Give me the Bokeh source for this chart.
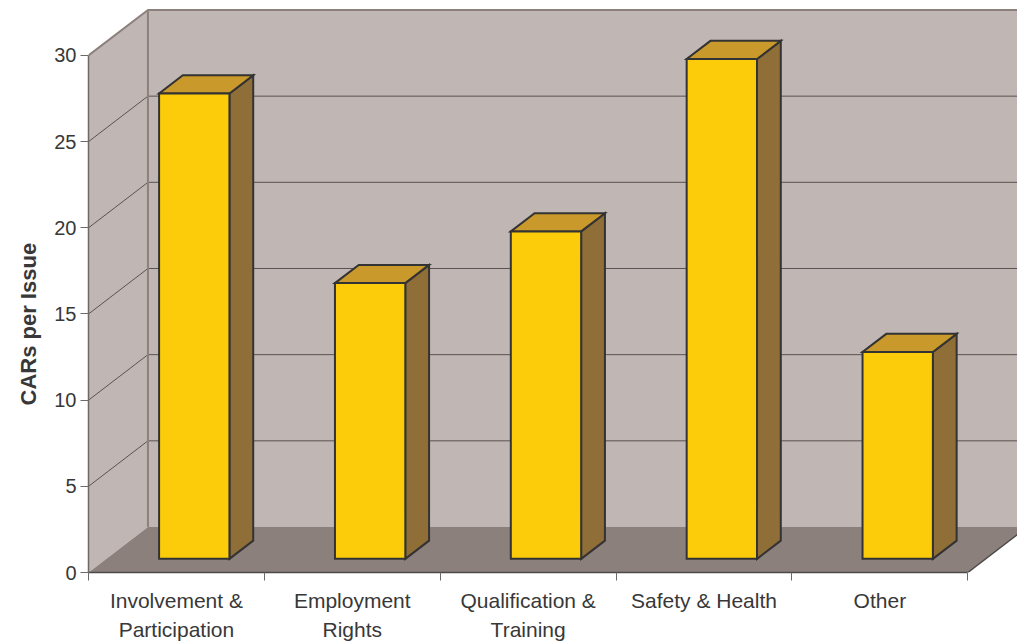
from bokeh.plotting import figure
from bokeh.models import FixedTicker, Range1d, Title
from bokeh.embed import file_html
from bokeh.resources import INLINE

categories = ["Involvement &\nParticipation", "Employment\nRights",
              "Qualification &\nTraining", "Safety & Health", "Other"]
values = [27, 16, 19, 29, 12]
y_ticks = [0, 5, 10, 15, 20, 25, 30]
y_label = "CARs per Issue"

DX, DY = 0.338, 2.64      # depth offset (x in category units, y in value units)
F0, F1 = 0.30, 0.70       # bar front/back depth fractions
BW = 0.4                  # bar width in category units
YMAX = 30
n = len(categories)
XR = 5.2826
FONT = "Liberation Sans"
TXT = "#383838"

p = figure(width=1017, height=644, x_range=Range1d(0, XR), y_range=Range1d(0, 33.19),
           output_backend="svg", toolbar_location=None,
           min_border_left=88, min_border_right=0, min_border_top=0, min_border_bottom=72)
p.outline_line_color = None
p.grid.visible = False
p.background_fill_color = "white"

wall = "#C0B6B4"
floor = "#8C807C"
edge = "#8C807C"
gridc = "#5a5252"

# walls and floor
p.patch([0, DX, DX, 0], [0, DY, YMAX + DY, YMAX], fill_color=wall, line_color=None)
p.patch([DX, XR + 1, XR + 1, DX], [DY, DY, YMAX + DY, YMAX + DY], fill_color=wall, line_color=None)
p.patch([0, n, n + DX, DX], [0, 0, DY, DY], fill_color=floor, line_color=None)

# gridlines
gx, gy = [], []
for v in y_ticks[1:-1]:
    gx.append([0, DX, XR + 1])
    gy.append([v, v + DY, v + DY])
p.multi_line(gx, gy, line_color=gridc, line_width=1)

# wall edges
p.multi_line([[0, DX, XR + 1], [DX, DX]], [[YMAX, YMAX + DY, YMAX + DY], [DY, YMAX + DY]],
             line_color=edge, line_width=2)
# floor right edge
p.line([n, n + DX], [0, DY], line_color="#4a4a4a", line_width=1.5)

# bars
d = F1 - F0
fx, fy, tx, ty, sx, sy = [], [], [], [], [], []
for i, v in enumerate(values):
    x0 = i + (1 - BW) / 2 + F0 * DX
    x1 = x0 + BW
    b = F0 * DY
    t = b + v
    fx.append([x0, x1, x1, x0]); fy.append([b, b, t, t])
    tx.append([x0, x1, x1 + d * DX, x0 + d * DX]); ty.append([t, t, t + d * DY, t + d * DY])
    sx.append([x1, x1 + d * DX, x1 + d * DX, x1]); sy.append([b, b + d * DY, t + d * DY, t])
p.patches(sx, sy, fill_color="#8F6E37", line_color="#333333", line_width=2, line_join="miter")
p.patches(tx, ty, fill_color="#C9992B", line_color="#333333", line_width=2, line_join="miter")
p.patches(fx, fy, fill_color="#FCCB0A", line_color="#333333", line_width=2, line_join="miter")

# y axis
ya = p.yaxis[0]
ya.ticker = FixedTicker(ticks=y_ticks, minor_ticks=[])
ya.bounds = (0, YMAX)
ya.axis_line_color = "#6e6868"
ya.axis_line_width = 1.5
ya.major_tick_in = 0
ya.major_tick_out = 8
ya.major_tick_line_color = "#6e6868"
ya.minor_tick_line_color = None
ya.major_label_standoff = 4
ya.major_label_text_font = FONT
ya.major_label_text_font_size = "20px"
ya.major_label_text_color = TXT

# y axis title, placed lower than the frame centre as in the original
p.add_layout(Title(text=y_label, align="left", offset=167, standoff=18,
                   vertical_align="top",
                   text_font=FONT, text_font_style="bold", text_font_size="22px",
                   text_color=TXT), "left")

# x axis
xa = p.xaxis[0]
centers = [i + 0.5 for i in range(n)]
xa.ticker = FixedTicker(ticks=centers, minor_ticks=list(range(n + 1)))
xa.bounds = (0, n)
xa.axis_line_color = "#4a4a4a"
xa.axis_line_width = 1.5
xa.major_tick_line_color = None
xa.minor_tick_in = 0
xa.minor_tick_out = 8
xa.minor_tick_line_color = "#6e6868"
xa.major_label_overrides = {c: lab for c, lab in zip(centers, categories)}
xa.major_label_standoff = 8
xa.major_label_text_font = FONT
xa.major_label_text_font_size = "21px"
xa.major_label_text_color = TXT
xa.major_label_text_line_height = 1.3

open("out.html", "w").write(file_html(p, INLINE))
